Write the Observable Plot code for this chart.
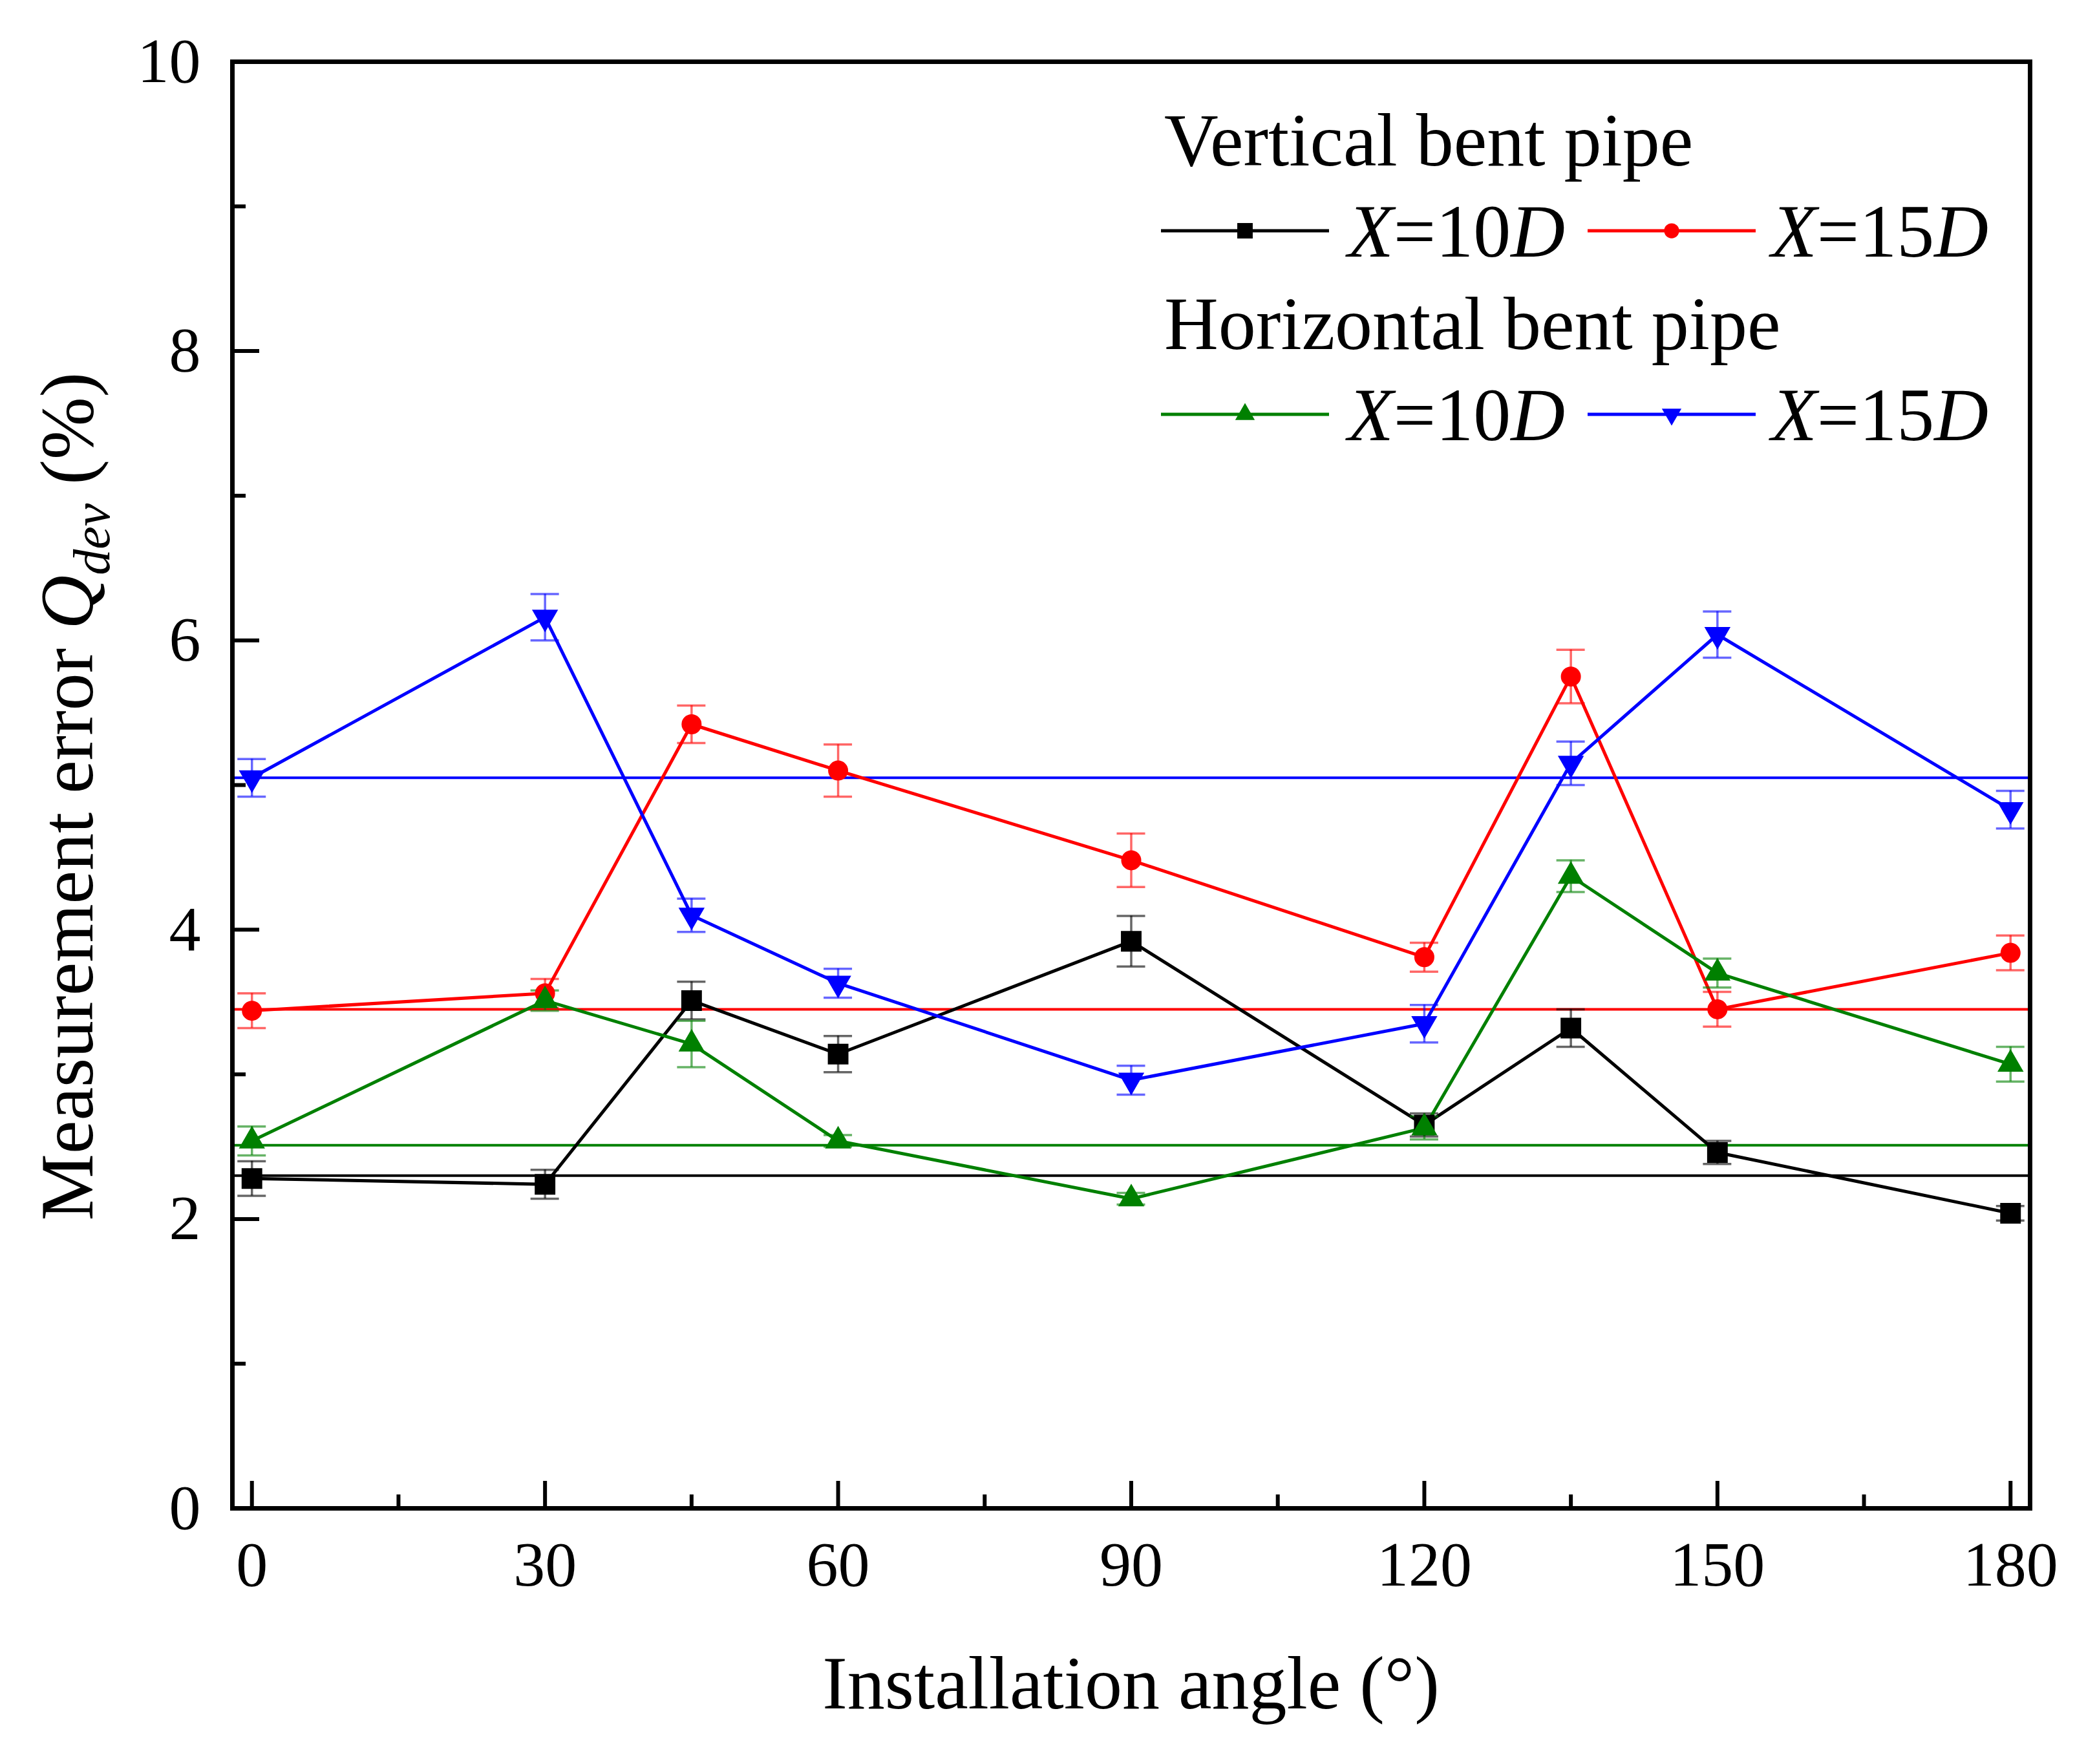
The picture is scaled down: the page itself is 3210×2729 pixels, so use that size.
<!DOCTYPE html>
<html>
<head>
<meta charset="utf-8">
<script src="https://cdn.jsdelivr.net/npm/d3@7"></script>
<script src="https://cdn.jsdelivr.net/npm/@observablehq/plot@0.6"></script>
<style>
  html, body { margin: 0; padding: 0; background: #ffffff; }
  #chart svg { display: block; }
</style>
</head>
<body>
<div id="chart"></div>
<script>
// ---------------- data ----------------
const angles = [0, 30, 45, 60, 90, 120, 135, 150, 180];

const vert10    = [2.28, 2.24, 3.51, 3.14, 3.92, 2.65, 3.32, 2.46, 2.04];
const vert10Err = [0.12, 0.10, 0.13, 0.125, 0.175, 0.08, 0.13, 0.08, 0.05];

const vert15    = [3.44, 3.56, 5.42, 5.10, 4.48, 3.81, 5.75, 3.45, 3.84];
const vert15Err = [0.12, 0.10, 0.13, 0.18, 0.185, 0.10, 0.185, 0.12, 0.12];

const hor10     = [2.54, 3.51, 3.21, 2.54, 2.14, 2.63, 4.37, 3.70, 3.07];
const hor10Err  = [0.10, 0.07, 0.16, 0.04, 0.04, 0.08, 0.11, 0.10, 0.12];

const hor15     = [5.05, 6.16, 4.10, 3.63, 2.96, 3.35, 5.15, 6.04, 4.83];
const hor15Err  = [0.13, 0.16, 0.115, 0.10, 0.10, 0.13, 0.15, 0.16, 0.13];

// reference (0° level) lines
const refLevels = [2.30, 3.45, 2.51, 5.05];

const xMajor = [0, 30, 60, 90, 120, 150, 180];
const xMinor = [15, 45, 75, 105, 135, 165];
const yMajor = [0, 2, 4, 6, 8, 10];
const yMinor = [1, 3, 5, 7, 9];

const groupTitles = ["Vertical bent pipe", "Horizontal bent pipe"];
const seriesLabels = [["X", "=10", "D"], ["X", "=15", "D"]];
const xLabel = "Installation angle (°)";

// ---------------- styling ----------------
const FONT = "'Liberation Serif', 'Times New Roman', serif";
const W = 3210, H = 2729;
const mL = 359, mR = 70, mT = 95, mB = 396;
const plotW = W - mL - mR, plotH = H - mT - mB;

const series = [
  {key: "v10", values: vert10, err: vert10Err, color: "#000000", symbol: "square",   r: 18, rotate: 0},
  {key: "v15", values: vert15, err: vert15Err, color: "#ff0000", symbol: "circle",   r: 15.5, rotate: 0},
  {key: "h10", values: hor10,  err: hor10Err,  color: "#008000", symbol: "triangle", r: 15, rotate: 0},
  {key: "h15", values: hor15,  err: hor15Err,  color: "#0000ff", symbol: "triangle", r: 15, rotate: 180}
];

const rows = series.map(s => angles.map((a, i) => ({
  angle: a, value: s.values[i], lo: s.values[i] - s.err[i], hi: s.values[i] + s.err[i]
})));

const seriesMarks = [];
series.forEach((s, k) => {
  seriesMarks.push(Plot.ruleY([refLevels[k]], {stroke: s.color, strokeWidth: 4}));
});
series.forEach((s, k) => {
  const d = rows[k];
  seriesMarks.push(
    Plot.ruleX(d, {x: "angle", y1: "lo", y2: "hi", stroke: s.color, strokeOpacity: 0.6, strokeWidth: 3.5}),
    Plot.ruleY(d, {y: "hi", x1: "angle", x2: "angle", insetLeft: -22, insetRight: -22, stroke: s.color, strokeOpacity: 0.6, strokeWidth: 3.5}),
    Plot.ruleY(d, {y: "lo", x1: "angle", x2: "angle", insetLeft: -22, insetRight: -22, stroke: s.color, strokeOpacity: 0.6, strokeWidth: 3.5}),
    Plot.line(d, {x: "angle", y: "value", stroke: s.color, strokeWidth: 5})
  );
});
series.forEach((s, k) => {
  seriesMarks.push(Plot.dot(rows[k], {x: "angle", y: "value", symbol: s.symbol, r: s.r, rotate: s.rotate, fill: s.color, stroke: "none"}));
});

// legend + axis titles drawn as a render-function mark (pure text/decoration)
function decorations() {
  const g = d3.create("svg:g").attr("font-family", FONT).attr("fill", "black").attr("text-anchor", "start");
  // Y axis title
  const yt = g.append("text")
    .attr("transform", "translate(143,1232) rotate(-90)")
    .attr("text-anchor", "middle")
    .attr("font-size", 116);
  yt.append("tspan").text("Measurement error ");
  yt.append("tspan").attr("font-style", "italic").text("Q");
  yt.append("tspan").attr("font-style", "italic").attr("font-size", 80).attr("dy", 26).text("dev");
  yt.append("tspan").attr("dy", -26).text(" (%)");
  // X axis title
  g.append("text").attr("x", mL + plotW / 2).attr("y", 2643)
    .attr("text-anchor", "middle").attr("font-size", 116).text(xLabel);

  // legend
  const legendRows = [
    {title: groupTitles[0], titleY: 256, lineY: 357, items: [series[0], series[1]]},
    {title: groupTitles[1], titleY: 540, lineY: 641, items: [series[2], series[3]]}
  ];
  const lineStarts = [1796, 2456];
  const textStarts = [2085, 2740];
  legendRows.forEach(row => {
    g.append("text").attr("x", 1801).attr("y", row.titleY).attr("font-size", 116)
      .attr("text-anchor", "start").text(row.title);
    row.items.forEach((s, j) => {
      const x0 = lineStarts[j], x1 = x0 + 260, cx = (x0 + x1) / 2;
      g.append("line").attr("x1", x0).attr("x2", x1).attr("y1", row.lineY).attr("y2", row.lineY)
        .attr("stroke", s.color).attr("stroke-width", 5);
      const symType = s.symbol === "square" ? d3.symbolSquare : s.symbol === "circle" ? d3.symbolCircle : d3.symbolTriangle;
      const size = Math.PI * (s.r * 0.75) * (s.r * 0.75);
      g.append("path").attr("d", d3.symbol(symType, size)())
        .attr("transform", `translate(${cx},${row.lineY}) rotate(${s.rotate})`)
        .attr("fill", s.color);
      const lab = seriesLabels[j];
      const t = g.append("text").attr("x", textStarts[j]).attr("y", row.lineY + 40)
        .attr("font-size", 116).attr("text-anchor", "start");
      t.append("tspan").attr("font-style", "italic").text(lab[0]);
      t.append("tspan").text(lab[1]);
      t.append("tspan").attr("font-style", "italic").text(lab[2]);
    });
  });
  return g.node();
}

const chart = Plot.plot({
  width: W, height: H,
  marginLeft: mL, marginRight: mR, marginTop: mT, marginBottom: mB,
  style: {fontFamily: FONT, fontSize: "98px", background: "#ffffff", color: "#000000", overflow: "visible"},
  x: {domain: [-2, 182]},
  y: {domain: [0, 10]},
  marks: [
    Plot.axisX(xMajor, {tickSize: 0, tickPadding: 50, tickFormat: d => String(d), label: null, fontSize: 98}),
    Plot.axisY(yMajor, {tickSize: 0, tickPadding: 49, tickFormat: d => String(d), label: null, fontSize: 98}),
    Plot.tickY(yMajor, {y: d => d, insetRight: plotW - 42, strokeWidth: 6, stroke: "#000"}),
    Plot.tickY(yMinor, {y: d => d, insetRight: plotW - 21, strokeWidth: 6, stroke: "#000"}),
    Plot.tickX(xMajor, {x: d => d, insetTop: plotH - 42, strokeWidth: 6, stroke: "#000"}),
    Plot.tickX(xMinor, {x: d => d, insetTop: plotH - 21, strokeWidth: 6, stroke: "#000"}),
    ...seriesMarks,
    Plot.frame({stroke: "#000", strokeWidth: 7}),
    decorations
  ]
});
document.getElementById("chart").appendChild(chart);
</script>
</body>
</html>
